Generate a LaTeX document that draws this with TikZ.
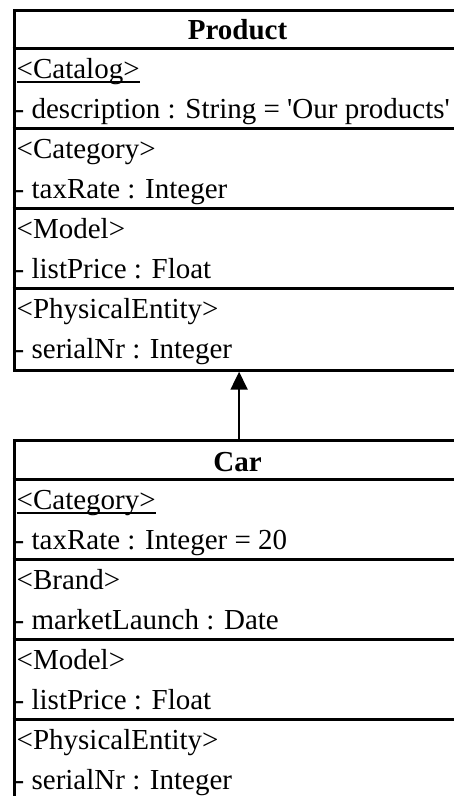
\documentclass[tikz,border=0pt]{standalone}
\usepackage{fontspec}
\setmainfont{Liberation Serif}
\usetikzlibrary{arrows.meta}
\begin{document}
\begin{tikzpicture}[x=1pt,y=-1pt,
  font=\fontsize{29}{35}\selectfont,
  classbox/.style={draw,line width=3.2pt,anchor=north west,inner sep=0pt,minimum width=450pt},
  headsep/.style={line width=3pt},
  compsep/.style={line width=2.4pt},
  title/.style={font=\fontsize{29}{35}\selectfont\bfseries,anchor=base,inner sep=0pt},
  attr/.style={anchor=base west,inner sep=0pt},
  stereo/.style={anchor=base west,inner sep=0pt,xshift=2pt},
  uline/.style={line width=2pt},
  inherit/.style={-{Triangle[length=18pt,width=17pt]},line width=2pt}]
\useasboundingbox (0,0) rectangle (454,796);
\clip (0,0) rectangle (454,796);

% ---- class Product ----
\node[classbox,minimum height=359.5pt] (product) at (12.5,9) {};
\draw[headsep] (12.5,48.5) -- (462.5,48.5);
\foreach \y in {128.5,208.5,288.5}
  \draw[compsep] (12.5,\y) -- (462.5,\y);
\node[title] (ptitle) at (237.5,39.5) {Product};
\node[stereo] (pcatalog) at (14.5,78) {<Catalog>};
\draw[uline] ([yshift=-3.5pt]pcatalog.base west) -- ([yshift=-3.5pt]pcatalog.base east);
\node[attr] (pdesc) at (14.5,118) {- description : String = \textquotesingle Our products\textquotesingle};
\node[stereo] (pcategory) at (14.5,158) {<Category>};
\node[attr] (ptax) at (14.5,198) {- taxRate : Integer};
\node[stereo] (pmodel) at (14.5,238) {<Model>};
\node[attr] (pprice) at (14.5,278) {- listPrice : Float};
\node[stereo] (pentity) at (14.5,318) {<PhysicalEntity>};
\node[attr] (pserial) at (14.5,358) {- serialNr : Integer};

% ---- class Car ----
\node[classbox,minimum height=360.5pt] (car) at (12.5,439) {};
\draw[headsep] (12.5,479.5) -- (462.5,479.5);
\foreach \y in {559.5,639.5,719.5}
  \draw[compsep] (12.5,\y) -- (462.5,\y);
\node[title] (ctitle) at (237.5,471) {Car};
\node[stereo] (ccategory) at (14.5,509.5) {<Category>};
\draw[uline] ([yshift=-3.5pt]ccategory.base west) -- ([yshift=-3.5pt]ccategory.base east);
\node[attr] (ctax) at (14.5,549.5) {- taxRate : Integer = 20};
\node[stereo] (cbrand) at (14.5,589.5) {<Brand>};
\node[attr] (claunch) at (14.5,629.5) {- marketLaunch : Date};
\node[stereo] (cmodel) at (14.5,669.5) {<Model>};
\node[attr] (cprice) at (14.5,709.5) {- listPrice : Float};
\node[stereo] (centity) at (14.5,749.5) {<PhysicalEntity>};
\node[attr] (cserial) at (14.5,789.5) {- serialNr : Integer};

% ---- generalisation ----
\draw[inherit] (car.north) -- (product.south);
\end{tikzpicture}
\end{document}
